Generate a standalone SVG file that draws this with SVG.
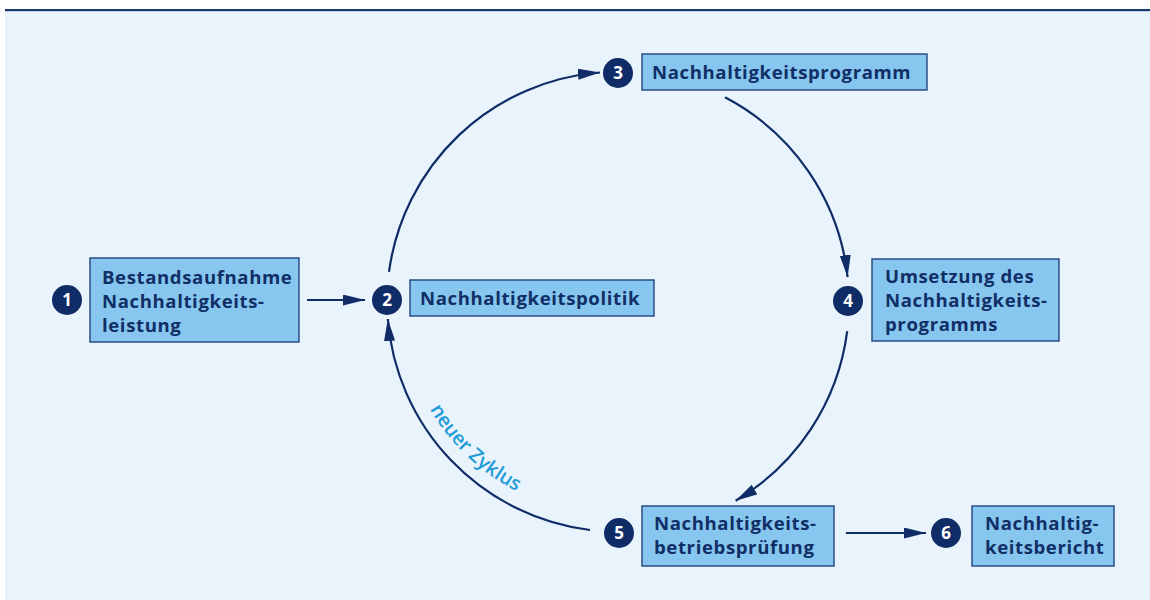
<svg xmlns="http://www.w3.org/2000/svg" width="1150" height="600" viewBox="0 0 1150 600">
<style>
.box{fill:#86C6EF;stroke:#23437E;stroke-width:1.4}
.lbl{font-family:"Open Sans","Liberation Sans",sans-serif;font-weight:700;font-size:18.6px;letter-spacing:0.6px;fill:#112F66}
.num{fill:#0F2C66}
.numt{font-family:"Open Sans","Liberation Sans",sans-serif;font-weight:700;font-size:17px;fill:#FFFFFF;text-anchor:middle}
.con{fill:none;stroke:#0F2C66;stroke-width:2.2}
.cyc{font-family:"Open Sans","Liberation Sans",sans-serif;font-weight:600;font-size:19.5px;fill:#1E9AD8}
</style>
<defs>
<marker id="ah" markerUnits="userSpaceOnUse" markerWidth="24" markerHeight="12" refX="22" refY="5.5" orient="auto" viewBox="0 0 24 12">
<path d="M0,0 L22,5.5 L0,11 Z" fill="#0F2C66"/>
</marker>
<path id="cycpath" d="M427,404.5 A214,214 0 0 0 537.5,500.5"/>
</defs>
<rect x="5" y="10" width="1145" height="590" fill="#E8F3FC"/>
<rect x="5" y="9" width="1145" height="2.2" fill="#1A3870"/>

<g id="connectors">
<line class="con" x1="307" y1="300" x2="365" y2="300" marker-end="url(#ah)"/>
<path class="con" d="M389,271.9 A231,231 0 0 1 600,72.5" marker-end="url(#ah)"/>
<path class="con" d="M725,97.3 A231,231 0 0 1 847.6,277.1" marker-end="url(#ah)"/>
<path class="con" d="M847.2,331.2 A231,231 0 0 1 735.6,500.8" marker-end="url(#ah)"/>
<path class="con" d="M590,530 A231,231 0 0 1 387.8,319" marker-end="url(#ah)"/>
<line class="con" x1="846" y1="533" x2="926" y2="533" marker-end="url(#ah)"/>
<text class="cyc"><textPath href="#cycpath" startOffset="66" text-anchor="middle">neuer Zyklus</textPath></text>
</g>

<g id="node1">
<circle class="num" cx="67" cy="300" r="15"/>
<text class="numt" x="67" y="306">1</text>
<rect class="box" x="90" y="258" width="209" height="84"/>
<text class="lbl" x="102" y="284">Bestandsaufnahme<tspan x="102" dy="24">Nachhaltigkeits-</tspan><tspan x="102" dy="24">leistung</tspan></text>
</g>

<g id="node2">
<circle class="num" cx="387" cy="300" r="15"/>
<text class="numt" x="387" y="306">2</text>
<rect class="box" x="410" y="280" width="244" height="36"/>
<text class="lbl" x="420" y="305">Nachhaltigkeitspolitik</text>
</g>

<g id="node3">
<circle class="num" cx="618" cy="73" r="15"/>
<text class="numt" x="618" y="79">3</text>
<rect class="box" x="642" y="54" width="285" height="36"/>
<text class="lbl" x="652" y="79">Nachhaltigkeitsprogramm</text>
</g>

<g id="node4">
<circle class="num" cx="848" cy="301" r="15"/>
<text class="numt" x="848" y="307">4</text>
<rect class="box" x="872" y="259" width="187" height="82"/>
<text class="lbl" x="885" y="283">Umsetzung des<tspan x="885" dy="24">Nachhaltigkeits-</tspan><tspan x="885" dy="24">programms</tspan></text>
</g>

<g id="node5">
<circle class="num" cx="619" cy="533" r="15"/>
<text class="numt" x="619" y="539">5</text>
<rect class="box" x="642" y="506" width="192" height="60"/>
<text class="lbl" x="654" y="530">Nachhaltigkeits-<tspan x="654" dy="24">betriebsprüfung</tspan></text>
</g>

<g id="node6">
<circle class="num" cx="946" cy="533" r="15"/>
<text class="numt" x="946" y="539">6</text>
<rect class="box" x="972" y="506" width="142" height="60"/>
<text class="lbl" x="985" y="530">Nachhaltig-<tspan x="985" dy="24">keitsbericht</tspan></text>
</g>
</svg>
